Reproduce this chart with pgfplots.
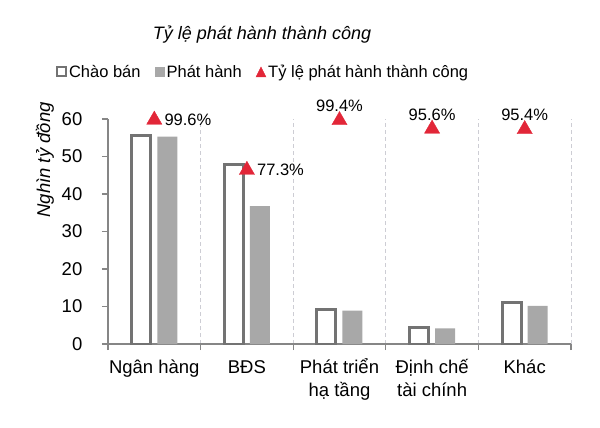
\documentclass[border=0pt]{standalone}
\usepackage{fontspec}
\setmainfont{Liberation Sans}
\usepackage{pgfplots}
\pgfplotsset{compat=1.18}
\definecolor{axgray}{RGB}{134,134,134}
\definecolor{barout}{RGB}{115,115,115}
\definecolor{barfill}{RGB}{168,168,168}
\definecolor{tri}{RGB}{226,38,56}
\definecolor{gridc}{RGB}{205,205,212}
\newcommand{\fs}[1]{\fontsize{#1bp}{1.2\dimexpr#1bp\relax}\selectfont}
\begin{document}
\begin{tikzpicture}
\begin{axis}[
  name=ax1,
  scale only axis, width=463bp, height=225bp,
  xmin=-0.5, xmax=4.5, ymin=0, ymax=60,
  axis x line*=bottom, axis y line*=left,
  axis line style={axgray, line width=1.3bp},
  ytick={0,10,...,60},
  /pgf/number format/assume math mode=true,
  tick align=outside,
  major tick length=6bp,
  tick style={axgray, line width=1.1bp},
  xtick={-0.5,0.5,...,4.5},
  xticklabels={},
  xmajorgrids,
  grid style={gridc, dash pattern=on 4bp off 3bp, line width=0.8bp},
  extra x ticks={0,1,2,3,4},
  extra x tick labels={\rule{0pt}{17bp}Ngân hàng, \rule{0pt}{17bp}BĐS, {\rule{0pt}{17bp}Phát triển\\hạ tầng}, {\rule{0pt}{17bp}Định chế\\tài chính}, \rule{0pt}{17bp}Khác},
  extra x tick style={grid=none, major tick length=0pt, tick style={draw=none},
     x tick label style={anchor=north, align=center, inner sep=0pt, yshift=-12bp,
       font=\fontsize{18.5bp}{23bp}\selectfont}},
  yticklabel style={anchor=east, inner sep=0pt, xshift=-19.5bp, font=\fs{18.5}},
  ylabel={\itshape Nghìn tỷ đồng},
  ylabel style={at={(axis description cs:-0.136,0.818)}, anchor=center, font=\fs{18.5}},
  legend columns=3,
  legend style={at={(axis description cs:0.335,1.209)}, anchor=center, draw=none, fill=none,
     font=\fs{16.5}, inner sep=0pt,
     /tikz/every even column/.append style={column sep=12bp},
     nodes={inner sep=2bp}},
]
\addplot[ybar, bar width=19bp, bar shift=-13bp, draw=barout, line width=3bp, fill=white,
  legend image code/.code={\draw[barout, line width=2bp, fill=white] (0bp,-4.5bp) rectangle (9bp,4.5bp);}]
  coordinates {(0,55.7) (1,47.9) (2,9.25) (3,4.5) (4,11.0)};
\addlegendentry{Chào bán}
\addplot[ybar, bar width=20bp, bar shift=13bp, draw=none, fill=barfill,
  legend image code/.code={\fill[barfill] (0bp,-5bp) rectangle (10bp,5bp);}]
  coordinates {(0,55.3) (1,36.8) (2,8.9) (3,4.2) (4,10.2)};
\addlegendentry{Phát hành}
\addlegendimage{legend image code/.code={\fill[tri] (0bp,-5bp) -- (10bp,-5bp) -- (5bp,5bp) -- cycle;}}
\addlegendentry{Tỷ lệ phát hành thành công}
\end{axis}
\begin{axis}[
  scale only axis, width=463bp, height=225bp,
  xmin=-0.5, xmax=4.5, ymin=0, ymax=100,
  hide axis, clip=false,
]
\addplot[only marks, mark=triangle*, mark size=8.8bp, color=tri,
  point meta=explicit symbolic, nodes near coords,
  every node near coord/.style={anchor=west, inner sep=0pt, xshift=10bp, text=black, font=\fs{16.5}}]
  coordinates {(0,99.6) [99.6\%] (1,77.3) [77.3\%]};
\addplot[only marks, mark=triangle*, mark size=8.8bp, color=tri,
  point meta=explicit symbolic, nodes near coords,
  every node near coord/.style={anchor=base, inner sep=0pt, yshift=8.5bp, text=black, font=\fs{16.5}}]
  coordinates {(2,99.4) [99.4\%] (3,95.6) [95.6\%] (4,95.4) [95.4\%]};
\end{axis}
\node[font=\fs{18}\itshape, anchor=center] at ([shift={(154bp,309bp)}]ax1.south west) {Tỷ lệ phát hành thành công};
\pgfresetboundingbox
\path ([shift={(-108bp,-84bp)}]ax1.south west) rectangle ([shift={(492bp,344bp)}]ax1.south west);
\end{tikzpicture}
\end{document}
